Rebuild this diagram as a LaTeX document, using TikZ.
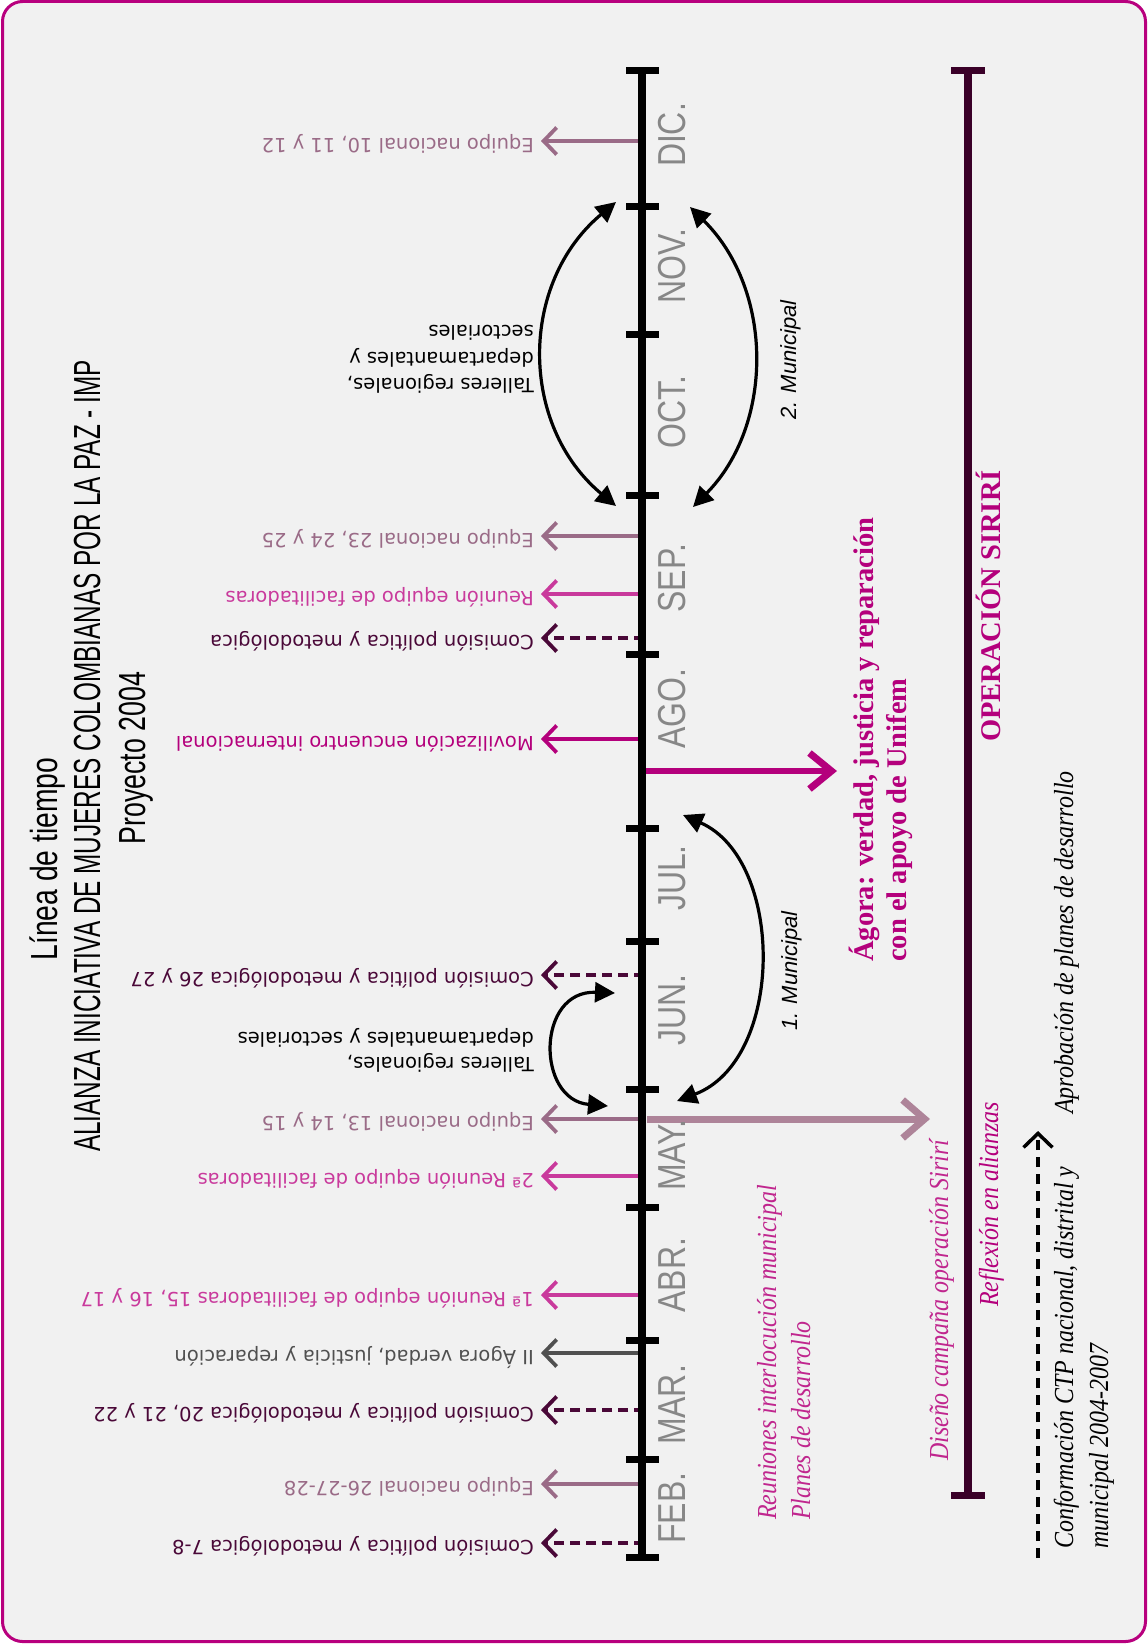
\documentclass[tikz,border=0pt]{standalone}
\usepackage{fontspec}
\usepackage{graphicx}
\usetikzlibrary{arrows.meta}
\newfontfamily\evfont{DejaVu Sans}
\newfontfamily\condfont{Liberation Sans}
\newfontfamily\serfont{Liberation Serif}
\newfontfamily\seritfont{Liberation Serif}[FakeStretch=0.87]
\newfontfamily\munfont{Liberation Sans}
\definecolor{mauve}{HTML}{9A6B87}
\definecolor{mauvelight}{HTML}{AE8499}
\definecolor{pinkc}{HTML}{C93A9C}
\definecolor{magc}{HTML}{B4007C}
\definecolor{plum}{HTML}{4A0838}
\definecolor{agoragray}{HTML}{505050}
\definecolor{monthgray}{HTML}{878787}
\definecolor{barpurple}{HTML}{3A0028}
\definecolor{bordermag}{HTML}{B8007E}
\definecolor{bgc}{HTML}{F1F1F1}
\definecolor{itpink}{HTML}{C0268E}
\tikzset{
  evtext/.style={font=\evfont\fontsize{19.5}{24}\selectfont, inner sep=0pt, rotate=180, anchor=mid west},
  eqtxt/.style={text=mauve}, retxt/.style={text=pinkc}, motxt/.style={text=magc},
  cotxt/.style={text=plum}, agtxt/.style={text=agoragray}, tatxt/.style={text=black},
  barb/.style={-{Straight Barb[length=13pt,width=27pt,line width=3.8pt]}},
  solidev/.style={line width=3.5pt, barb},
  eqarr/.style={solidev, draw=mauve},
  rearr/.style={solidev, draw=pinkc},
  moarr/.style={solidev, draw=magc},
  agarr/.style={solidev, draw=agoragray},
  coarr/.style={solidev, draw=plum, dash pattern=on 10pt off 6pt},
  month/.style={font=\condfont\fontsize{39}{39}\selectfont, text=monthgray, rotate=90, inner sep=0pt},
  ttl/.style={font=\condfont\fontsize{37.7}{40}\selectfont, text=black, rotate=90, inner sep=0pt, anchor=base},
  boldser/.style={font=\serfont\bfseries\fontsize{28.5}{34}\selectfont, text=magc, rotate=90, inner sep=0pt},
  itser/.style={font=\seritfont\itshape\fontsize{27.5}{32}\selectfont, rotate=90, inner sep=0pt, anchor=base west},
  muni/.style={font=\munfont\itshape\fontsize{22}{26}\selectfont, text=black, rotate=90, inner sep=0pt, anchor=base},
  curv/.style={line width=3.2pt, {Triangle[length=20pt,width=20pt]}-{Triangle[length=20pt,width=20pt]}},
  tickmark/.style={line width=7pt},
}
\newcommand{\evarrow}[4]{%
  \node[evtext,#3txt] (#1) at (534,#2) {#4};
  \coordinate (#1s) at (644,#2);
  \draw[#3arr] (#1s) -- ([xshift=7pt]#1.mid west);
}
\begin{document}
\begin{tikzpicture}[x=1pt,y=-1pt]
\useasboundingbox (0,0) rectangle (1148,1646);
\draw[bordermag, line width=3pt, fill=bgc, rounded corners=20pt] (2.5,1.5) rectangle (1145.5,1641.5);

% title
\node[ttl] (t1) at (57,859) {\scalebox{0.75}[1]{Línea de tiempo}};
\node[ttl] (t2) at (100,756) {\scalebox{0.645}[1]{ALIANZA INICIATIVA DE MUJERES COLOMBIANAS POR LA PAZ - IMP}};
\node[ttl] (t3) at (145,758) {\scalebox{0.71}[1]{Proyecto 2004}};

% events
\evarrow{e1}{141}{eq}{Equipo nacional 10, 11 y 12}
\evarrow{e2}{536}{eq}{Equipo nacional 23, 24 y 25}
\evarrow{e3}{594}{re}{Reunión equipo de facilitadoras}
\evarrow{e4}{638}{co}{Comisión política y metodológica}
\evarrow{e5}{739}{mo}{Movilización encuentro internacional}
\evarrow{e6}{975}{co}{Comisión política y metodológica 26 y 27}
\evarrow{e7}{1119}{eq}{Equipo nacional 13, 14 y 15}
\evarrow{e8}{1176}{re}{2ª Reunión equipo de facilitadoras}
\evarrow{e9}{1295}{re}{1ª Reunión equipo de facilitadoras 15, 16 y 17}
\evarrow{e10}{1353}{ag}{II Ágora verdad, justicia y reparación}
\evarrow{e11}{1410}{co}{Comisión política y metodológica 20, 21 y 22}
\evarrow{e12}{1484}{eq}{Equipo nacional 26-27-28}
\evarrow{e13}{1543}{co}{Comisión política y metodológica 7-8}

% talleres labels
\node[evtext,tatxt] (tal1) at (534,381) {Talleres regionales,};
\node[evtext,tatxt] (tal2) at (534,355) {departamantales y};
\node[evtext,tatxt] (tal3) at (534,328) {sectoriales};
\node[evtext,tatxt] (tal4) at (534,1060) {Talleres regionales,};
\node[evtext,tatxt] (tal5) at (534,1035) {departamantales y sectoriales};

% big right arrows
\coordinate (agS) at (646,771); \coordinate (agT) at (837,771);
\draw[magc, line width=6pt, -{Straight Barb[length=22pt,width=36pt,line width=7pt]}] (agS) -- (agT);
\coordinate (siS) at (647,1119); \coordinate (siT) at (930,1119);
\draw[mauvelight, line width=7pt, -{Straight Barb[length=22pt,width=38pt,line width=7pt]}] (siS) -- (siT);

% axis
\coordinate (axtop) at (642,71); \coordinate (axbot) at (642,1557);
\draw[line width=8pt] (axtop) -- (axbot);
\foreach \ty in {71,206,334,495,654,828,941,1089,1207,1340,1459,1557}
  \draw[tickmark] (626,\ty) -- (659,\ty);

% months
\node[month] (mdic) at (672,135) {\scalebox{0.82}[1]{DIC.}};
\node[month] (mnov) at (672,266) {\scalebox{0.82}[1]{NOV.}};
\node[month] (moct) at (672,412) {\scalebox{0.82}[1]{OCT.}};
\node[month] (msep) at (672,578) {\scalebox{0.82}[1]{SEP.}};
\node[month] (mago) at (672,709) {\scalebox{0.82}[1]{AGO.}};
\node[month] (mjul) at (672,878) {\scalebox{0.82}[1]{JUL.}};
\node[month] (mjun) at (672,1010) {\scalebox{0.82}[1]{JUN.}};
\node[month] (mmay) at (672,1155) {\scalebox{0.82}[1]{MAY.}};
\node[month] (mabr) at (672,1275) {\scalebox{0.82}[1]{ABR.}};
\node[month] (mmar) at (672,1405) {\scalebox{0.82}[1]{MAR.}};
\node[month] (mfeb) at (672,1508) {\scalebox{0.82}[1]{FEB.}};

% curved arrows
\coordinate (c1a) at (616,506); \coordinate (c1b) at (616,202);
\draw[curv] (c1a) .. controls (519,425) and (519,283) .. (c1b);
\coordinate (c2a) at (693,507); \coordinate (c2b) at (690,207);
\draw[curv] (c2a) .. controls (774,425) and (774,290) .. (c2b);
\coordinate (c3a) at (608,1106); \coordinate (c3b) at (615,993);
\draw[curv] (c3a) .. controls (536,1100) and (536,990) .. (c3b);
\coordinate (c4a) at (677,1101); \coordinate (c4b) at (683,815);
\draw[curv] (c4a) .. controls (785,1060) and (785,860) .. (c4b);

\node[muni] (mun2) at (796,360) {2. Municipal};
\node[muni] (mun1) at (797,971) {1. Municipal};

% right column texts
\node[boldser, anchor=base west] (ag1) at (873,962) {Ágora: verdad, justicia y reparación};
\node[boldser, anchor=base west] (ag2) at (906,962) {con el apoyo de Unifem};
\node[boldser, anchor=base] (oper) at (1000,606) {OPERACIÓN SIRIRÍ};

\draw[barpurple, line width=8pt] (968,71) -- (968,1495);
\draw[barpurple, tickmark] (951,71) -- (985,71);
\draw[barpurple, tickmark] (951,1495) -- (985,1495);

\node[itser, text=itpink] (reun1) at (776,1520) {Reuniones interlocución municipal};
\node[itser, text=itpink] (reun2) at (810,1520) {Planes de desarrollo};
\node[itser, text=itpink] (dise) at (948,1461) {Diseño campaña operación Sirirí};
\node[itser, text=magc] (refl) at (998,1307) {Reflexión en alianzas};
\node[itser, text=black] (apro) at (1073,1114) {Aprobación de planes de desarrollo};
\node[itser, text=black] (conf1) at (1073,1549) {Conformación CTP nacional, distrital y};
\node[itser, text=black] (conf2) at (1108,1549) {municipal 2004-2007};

\coordinate (cfS) at (1038,1558); \coordinate (cfT) at (1038,1131);
\draw[line width=3.5pt, dash pattern=on 10pt off 7pt, -{Straight Barb[length=14pt,width=29pt,line width=3.5pt]}] (cfS) -- (cfT);
\end{tikzpicture}
\end{document}
